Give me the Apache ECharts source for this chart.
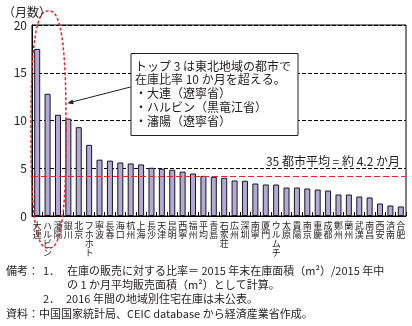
<!DOCTYPE html>
<html><head><meta charset="utf-8">
<script src="https://cdn.jsdelivr.net/npm/echarts@6/dist/echarts.min.js"></script>
<style>html,body{margin:0;padding:0;background:#fff}#c{width:412px;height:326px}</style>
</head><body><div id="c"></div>
<script>
const categories = ['大連','ハルビン','瀋陽','銀川','北京','フホホト','寧波','長春','海口','杭州','上海','長沙','天津','昆明','西寧','福州','平均','青島','石家荘','広州','深圳','南寧','厦門','ウルムチ','太原','貴陽','南京','重慶','成都','鄭州','蘭州','武漢','南昌','西安','済南','合肥'];
const values = [17.5,12.8,10.6,10.2,9.3,7.45,5.9,5.8,5.6,5.5,5.4,5.05,4.95,4.85,4.65,4.45,4.2,4.1,4.0,3.72,3.69,3.4,3.3,3.3,2.98,2.98,2.88,2.77,2.67,2.25,2.25,2.04,1.94,1.31,1.1,1.0];
const averageValue = 4.2;
const yMin = 0, yMax = 20, yStep = 5;
const unitLabel = '（月数）';
const avgLabel = '35 都市平均 = 約 4.2 か月';
const boxLines = ['トップ 3 は東北地域の都市で','在庫比率 10 か月を超える。','・大連（遼寧省）','・ハルビン（黒竜江省）','・瀋陽（遼寧省）'];
const FONT = '"Noto Sans CJK JP", "Noto Sans", sans-serif';

// decorative red dashed ellipse outline (annotation, not data)
function ovalPoints(cx, cy, a, b, n) {
  const pts = [];
  for (let i = 0; i <= 120; i++) {
    const t = i / 120 * Math.PI * 2;
    const c = Math.cos(t), s = Math.sin(t);
    pts.push([cx + a * Math.sign(c) * Math.pow(Math.abs(c), 2 / n), cy + b * Math.sign(s) * Math.pow(Math.abs(s), 2 / n)]);
  }
  return pts;
}

const chart = echarts.init(document.getElementById('c'), null, {renderer: 'canvas'});
const txt = (x, y, text, size, align) => ({type: 'text', x: x, y: y, z: 20, style: {text: text, fill: '#231f20', font: size + 'px ' + FONT, textAlign: align || 'left', textVerticalAlign: 'middle'}});

chart.setOption({
  animation: false,
  backgroundColor: '#fff',
  grid: {left: 32, right: 6, top: 25, bottom: 110, show: true, borderColor: '#000', borderWidth: 1, backgroundColor: 'transparent'},
  xAxis: {
    type: 'category', data: categories,
    axisLine: {lineStyle: {color: '#000', width: 1}},
    axisTick: {show: true, inside: true, length: 4, lineStyle: {color: '#000'}},
    axisLabel: {interval: 0, margin: 5, color: '#231f20', fontSize: 9, lineHeight: 9, fontFamily: FONT, verticalAlign: 'top',
      formatter: v => v.split('').join('\n')}
  },
  yAxis: {
    type: 'value', min: yMin, max: yMax, interval: yStep,
    axisLine: {show: true, lineStyle: {color: '#000'}},
    axisTick: {show: false},
    axisLabel: {color: '#231f20', fontSize: 12, margin: 5, fontFamily: FONT},
    splitLine: {show: true, lineStyle: {color: '#000', type: [4, 2], width: 1}}
  },
  series: [{
    type: 'bar', data: values, barWidth: 6,
    itemStyle: {color: '#b1aad6', borderColor: '#1a1420', borderWidth: 1},
    markLine: {silent: true, symbol: 'none', label: {show: false},
      lineStyle: {color: '#e8242a', type: [6, 3], width: 1.2},
      data: [{yAxis: averageValue}]}
  }],
  graphic: [
    txt(3, 12, unitLabel, 12),
    txt(400, 161, avgLabel, 12, 'right'),
    {type: 'rect', z: 15, shape: {x: 131, y: 53.5, width: 167, height: 82}, style: {fill: '#fff', stroke: '#231f20', lineWidth: 1}},
    ...boxLines.map((l, i) => txt(135, 66 + i * 13.8, l, 12)),
    {type: 'line', z: 15, shape: {x1: 130.5, y1: 87, x2: 72, y2: 102}, style: {stroke: '#231f20', lineWidth: 1}},
    {type: 'polygon', z: 15, shape: {points: [[67.3, 103.3], [73.7, 104.3], [72.5, 99.4]]}, style: {fill: '#231f20'}},
    {type: 'polyline', z: 18, shape: {points: ovalPoints(48.5, 129.5, 17.5, 118.5, 2.7)}, style: {stroke: '#e8242a', lineWidth: 1.5, lineDash: [3, 2], fill: null}},
    txt(6, 271, '備考：', 11),
    txt(43, 271, '1．', 11),
    txt(67, 271, '在庫の販売に対する比率＝ 2015 年末在庫面積（m²）/2015 年中', 11),
    txt(67, 285, 'の 1 か月平均販売面積（m²）として計算。', 11),
    txt(43, 299, '2．', 11),
    txt(66, 299, '2016 年間の地域別住宅在庫は未公表。', 11),
    txt(6, 314, '資料：中国国家統計局、CEIC database から経済産業省作成。', 11)
  ]
});
</script></body></html>
